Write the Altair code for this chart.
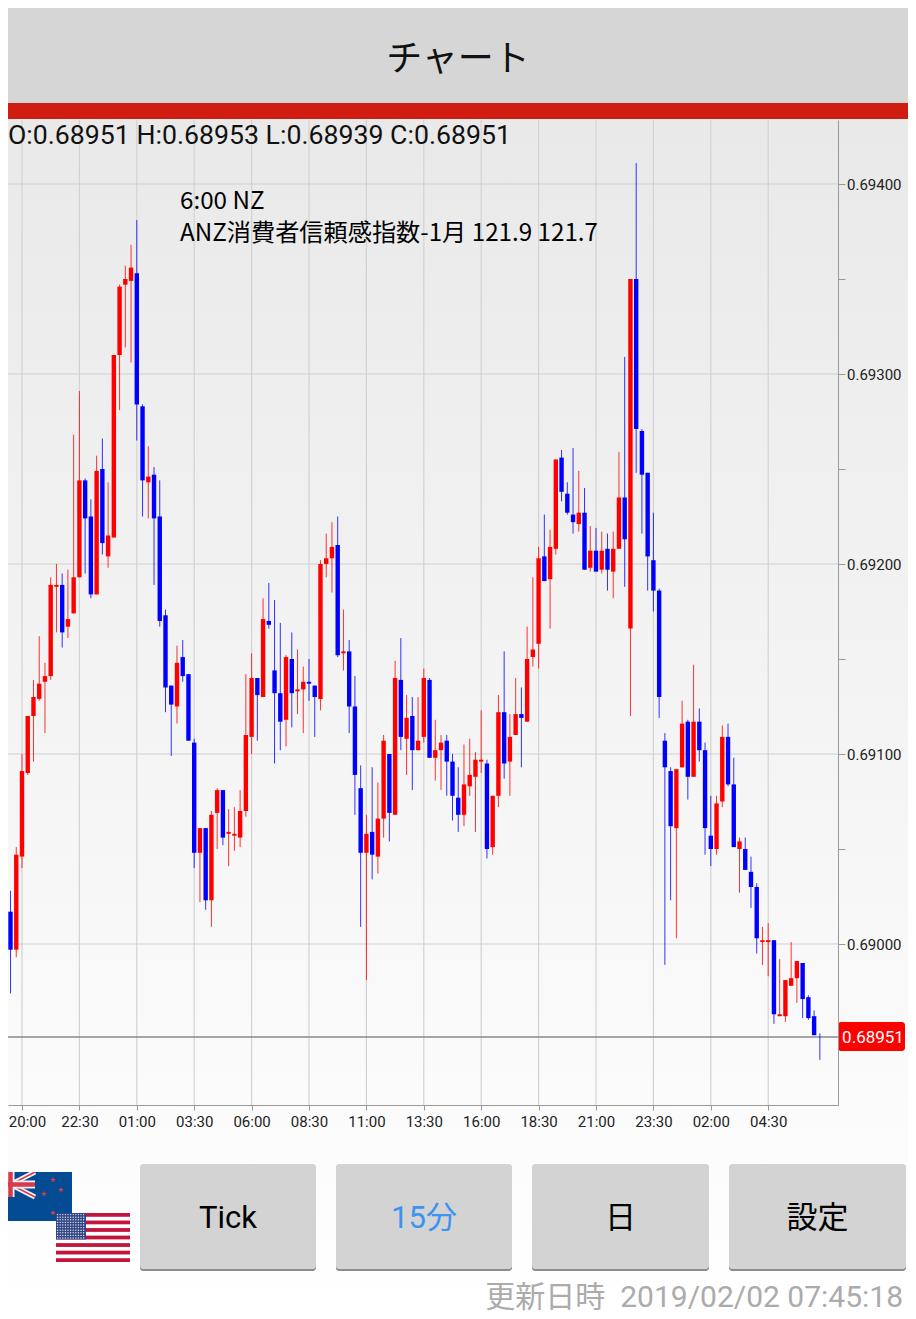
import base64
import altair as alt
import pandas as pd

# Prices are in 1/100000 units (69000 = 0.69000). First candle index is -4.
FIRST_INDEX = -4
SIDE = list(
    "BBBRRRRRRR" "RBRRRBBRBR" "RRRRBBRBBB" "BRBBBRBRRB"
    "RRRRRBRBBB" "RBRRBBRRRB" "RBBBRBRRBR" "BRBRRBRRBB"
    "BRRRRBRRBR" "RBRRRBRRBB" "BRBRBRBRRB" "RBBBBBBBRR"
    "BRBBBRRBBR" "BBBRRBRRRR" "BBBB"
)
BODY_TOP = [
    69077, 69069, 69017, 69047, 69091, 69120, 69130, 69137, 69141, 69189,
    69189, 69189, 69171, 69193, 69244, 69244, 69225, 69249, 69250, 69215,
    69310, 69346, 69350, 69356, 69353, 69283, 69246, 69247, 69225, 69173,
    69136, 69148, 69151, 69142, 69106, 69061, 69061, 69068, 69081, 69081,
    69059, 69058, 69070, 69110, 69140, 69140, 69171, 69170, 69144, 69132,
    69151, 69150, 69134, 69138, 69138, 69136, 69200, 69203, 69209, 69210,
    69154, 69154, 69125, 69082, 69058, 69059, 69066, 69107, 69100, 69140,
    69139, 69119, 69120, 69107, 69140, 69139, 69102, 69106, 69107, 69096,
    69077, 69084, 69089, 69097, 69097, 69095, 69078, 69122, 69122, 69109,
    69121, 69121, 69150, 69155, 69203, 69204, 69209, 69255, 69256, 69237,
    69226, 69227, 69227, 69207, 69207, 69207, 69208, 69208, 69235, 69235,
    69350, 69350, 69270, 69248, 69202, 69186, 69107, 69091, 69092, 69116,
    69117, 69117, 69117, 69102, 69057, 69074, 69109, 69109, 69084, 69054,
    69050, 69038, 69030, 69002, 69002, 69002, 68963, 68981, 68982, 68991,
    68990, 68972, 68962, 68951,
]
BODY_BOTTOM = [
    69069, 69016, 68997, 68997, 69046, 69090, 69120, 69129, 69138, 69141,
    69188, 69164, 69167, 69174, 69193, 69224, 69184, 69184, 69211, 69204,
    69214, 69310, 69347, 69349, 69284, 69244, 69243, 69224, 69170, 69135,
    69126, 69125, 69141, 69107, 69048, 69048, 69023, 69023, 69069, 69056,
    69058, 69057, 69056, 69070, 69109, 69131, 69130, 69168, 69132, 69117,
    69118, 69132, 69133, 69134, 69137, 69130, 69129, 69200, 69203, 69152,
    69153, 69125, 69089, 69048, 69048, 69047, 69046, 69066, 69069, 69068,
    69109, 69108, 69102, 69102, 69109, 69098, 69098, 69102, 69096, 69078,
    69068, 69068, 69083, 69088, 69096, 69050, 69051, 69078, 69095, 69096,
    69110, 69119, 69117, 69151, 69158, 69191, 69192, 69208, 69238, 69227,
    69222, 69221, 69197, 69198, 69196, 69197, 69197, 69196, 69208, 69213,
    69166, 69271, 69247, 69204, 69186, 69130, 69093, 69062, 69061, 69093,
    69088, 69088, 69102, 69061, 69050, 69050, 69075, 69084, 69051, 69050,
    69039, 69030, 69003, 69001, 69001, 68963, 68962, 68962, 68978, 68982,
    68971, 68961, 68952, 68951,
]
HIGH = [
    69084, 69099, 69028, 69051, 69100, 69120, 69139, 69162, 69148, 69193,
    69200, 69195, 69197, 69268, 69291, 69245, 69234, 69257, 69266, 69243,
    69310, 69347, 69357, 69368, 69381, 69284, 69262, 69251, 69244, 69176,
    69136, 69157, 69160, 69142, 69108, 69061, 69061, 69070, 69082, 69081,
    69071, 69072, 69081, 69142, 69153, 69140, 69182, 69190, 69181, 69169,
    69152, 69164, 69155, 69146, 69150, 69136, 69202, 69216, 69222, 69225,
    69176, 69160, 69141, 69094, 69068, 69093, 69085, 69110, 69100, 69149,
    69161, 69131, 69130, 69130, 69145, 69140, 69118, 69110, 69110, 69100,
    69093, 69105, 69108, 69101, 69123, 69097, 69078, 69131, 69154, 69121,
    69140, 69135, 69167, 69193, 69209, 69226, 69218, 69255, 69260, 69243,
    69261, 69249, 69240, 69220, 69219, 69217, 69216, 69217, 69259, 69309,
    69350, 69411, 69271, 69248, 69227, 69187, 69111, 69093, 69092, 69128,
    69118, 69147, 69124, 69106, 69078, 69078, 69115, 69116, 69098, 69056,
    69056, 69046, 69032, 69009, 69011, 69002, 68992, 68981, 69001, 68991,
    68990, 68973, 68965, 68953,
]
LOW = [
    69065, 69011, 68974, 68993, 69040, 69089, 69096, 69128, 69111, 69139,
    69164, 69156, 69161, 69174, 69193, 69195, 69182, 69184, 69205, 69198,
    69214, 69281, 69314, 69306, 69265, 69225, 69224, 69189, 69167, 69122,
    69099, 69116, 69138, 69107, 69040, 69022, 69018, 69009, 69050, 69052,
    69041, 69049, 69051, 69067, 69100, 69107, 69130, 69166, 69095, 69102,
    69104, 69114, 69121, 69111, 69128, 69109, 69123, 69193, 69185, 69151,
    69144, 69111, 69068, 69009, 68981, 69034, 69037, 69056, 69054, 69068,
    69102, 69089, 69081, 69102, 69106, 69098, 69086, 69081, 69078, 69065,
    69059, 69062, 69078, 69059, 69090, 69045, 69047, 69072, 69087, 69078,
    69110, 69093, 69117, 69146, 69145, 69191, 69166, 69205, 69233, 69226,
    69216, 69217, 69197, 69196, 69196, 69195, 69186, 69182, 69208, 69188,
    69120, 69248, 69216, 69186, 69175, 69119, 68989, 69023, 69003, 69093,
    69076, 69088, 69096, 69047, 69041, 69047, 69072, 69083, 69051, 69027,
    69039, 69019, 68995, 68989, 68983, 68958, 68962, 68959, 68978, 68969,
    68961, 68960, 68952, 68939,
]
TIME_LABELS = ["20:00", "22:30", "01:00", "03:30", "06:00", "08:30", "11:00",
               "13:30", "16:00", "18:30", "21:00", "23:30", "02:00", "04:30"]
PRICE_GRID = [69000, 69100, 69200, 69300, 69400]
PRICE_TICKS = [69000, 69050, 69100, 69150, 69200, 69250, 69300, 69350, 69400]
TIME_GRID = [0, 10, 20, 30, 40, 50, 60, 70, 80, 90, 100, 110, 120, 130]
TIME_TICKS = [0, 5, 10, 15, 20, 25, 30, 35, 40, 45, 50, 55, 60, 65, 70, 75, 80,
              85, 90, 95, 100, 105, 110, 115, 120, 125, 130, 135]
LAST_PRICE = 68951
OHLC_TEXT = "O:0.68951 H:0.68953 L:0.68939 C:0.68951"
EVENT_LINES = ["6:00 NZ", "ANZ消費者信頼感指数-1月 121.9 121.7"]
BUTTONS = ["Tick", "15分", "日", "設定"]
UPDATE_TEXT = "更新日時\u00a0\u00a02019/02/02 07:45:18"

n = len(HIGH)
frame = pd.DataFrame({
    "i": [FIRST_INDEX + k for k in range(n)],
    "side": SIDE, "top": BODY_TOP, "bottom": BODY_BOTTOM, "high": HIGH, "low": LOW,
})

one = pd.DataFrame({"a": [0]})
def X(v): return alt.value(v - 8)
def Y(v): return alt.value(v - 120)

def box(x0, x1, y0, y1, color, **kw):
    return alt.Chart(one).mark_rect(color=color, **kw).encode(
        x=X(x0), x2=X(x1), y=Y(y0), y2=Y(y1))

def label(text, x, y, size, color="#000000", font="Roboto", align="center", **kw):
    return alt.Chart(one).mark_text(
        text=text, font=font, fontSize=size, color=color, align=align, baseline="middle", **kw
    ).encode(x=X(x), y=Y(y))

x_scale = alt.Scale(domain=[-2.439, 142.16], nice=False, zero=False)
y_scale = alt.Scale(domain=[68915.26, 69433.68], nice=False, zero=False)
color_scale = alt.Scale(domain=["R", "B"], range=["#ff0000", "#0000ff"])

x_axis = alt.Axis(
    values=TIME_TICKS, title=None, grid=False, domainColor="#999999", tickColor="#999999",
    tickSize=5, labelFont="Roboto", labelFontSize=15, labelColor="#222222", labelPadding=4,
    labelOverlap=False, labelFlush=False, zindex=1,
    labelOffset={"condition": {"test": "datum.value === 0", "value": 5}, "value": 0},
    labelExpr="datum.value % 10 === 0 ? [" + ",".join(f"'{t}'" for t in TIME_LABELS) + "][datum.value / 10] : ''",
)
y_axis = alt.Axis(
    orient="right", values=PRICE_TICKS, title=None, grid=False, domainColor="#999999", tickColor="#999999",
    tickSize=7, labelFont="Roboto", labelFontSize=15, labelColor="#222222", labelPadding=1.5,
    labelOffset=1, labelOverlap=False, labelFlush=False, zindex=1,
    labelExpr="datum.value % 100 === 0 ? format(datum.value / 100000, '.5f') : ''",
)

background = box(0, 916, 119, 1319, alt.Gradient(
    gradient="linear", x1=0, x2=0, y1=0, y2=1,
    stops=[alt.GradientStop(color="#e9e9e9", offset=0), alt.GradientStop(color="#ffffff", offset=1)]))
header = box(0, 916, 0, 103, "#d6d6d6")
red_band = box(0, 916, 103, 119, "#cf1d12")

grid_v = alt.Chart(pd.DataFrame({"i": TIME_GRID})).mark_rule(color="#d2d2d2", strokeWidth=1.2).encode(
    x=alt.X("i:Q", scale=x_scale, axis=x_axis))
grid_h = alt.Chart(pd.DataFrame({"p": PRICE_GRID})).mark_rule(color="#d0d0d0", strokeWidth=1.2).encode(
    y=alt.Y("p:Q", scale=y_scale, axis=y_axis))

base = alt.Chart(frame)
wicks = base.mark_rule(strokeWidth=1, clip=True, opacity=0.8).encode(
    x=alt.X("i:Q", scale=x_scale),
    y=alt.Y("low:Q", scale=y_scale), y2="high:Q",
    color=alt.Color("side:N", scale=color_scale, legend=None))
bodies = base.mark_rule(strokeWidth=4.4, clip=True).encode(
    x=alt.X("i:Q", scale=x_scale),
    y=alt.Y("bottom:Q", scale=y_scale), y2="top:Q",
    color=alt.Color("side:N", scale=color_scale, legend=None))

last_line = alt.Chart(pd.DataFrame({"p": [LAST_PRICE]})).mark_rule(color="#8a8a8a", strokeWidth=1.5).encode(
    y=alt.Y("p:Q", scale=y_scale))
last_box = box(838, 905, 1022, 1051, "#ff0000", cornerRadius=3)
last_text = label(f"{LAST_PRICE / 100000:.5f}", 873, 1038, 17, color="#ffffff")

title = label("チャート", 458, 60, 36, font="Noto Sans CJK JP", color="#111111")
ohlc = label(OHLC_TEXT, 8, 135.5, 26.7, color="#111111", align="left")
event1 = label(EVENT_LINES[0], 180, 202, 24.2, font="Noto Sans CJK JP", align="left")
event2 = label(EVENT_LINES[1], 180, 234, 24.2, font="Noto Sans CJK JP", align="left")

button_spans = [(140, 316), (336, 512), (532, 709), (729, 906)]
button_layers = []
for (x0, x1), name in zip(button_spans, BUTTONS):
    button_layers.append(box(x0, x1, 1165, 1271, "#8c8c8c", cornerRadius=3))
    button_layers.append(box(x0, x1, 1164, 1269, "#d3d3d3", cornerRadius=3))
    col = "#3d93f0" if name == "15分" else "#000000"
    button_layers.append(label(name, (x0 + x1) / 2, 1219, 31, color=col, font="Roboto, Noto Sans CJK JP"))

update = label(UPDATE_TEXT, 903, 1298, 30, color="#ababab", font="Roboto, Noto Sans CJK JP", align="right")

# Flags as small inline SVG pictures
star = "0,-3 .9,-.9 2.9,-.9 1.1,.4 1.8,2.4 0,1.1 -1.8,2.4 -1.1,.4 -2.9,-.9 -.9,-.9"
stars = "".join(f'<polygon points="{star}" fill="#d8394b" transform="translate({x},{y})"/>'
                for x, y in [(67, 8), (75, 18), (58, 22), (67, 41)])
nz_svg = (
    '<svg xmlns="http://www.w3.org/2000/svg" width="86" height="49" viewBox="0 0 86 49">'
    '<rect width="86" height="49" fill="#034c94"/>'
    '<path d="M0 0L49 25M49 0L0 25" stroke="#f4f4f8" stroke-width="5"/>'
    '<path d="M0 0L49 25M49 0L0 25" stroke="#d8394b" stroke-width="1.6"/>'
    '<path d="M24.5 0V25M0 12.5H49" stroke="#f4f4f8" stroke-width="8"/>'
    '<path d="M24.5 0V25M0 12.5H49" stroke="#d8394b" stroke-width="4.5"/>'
    f'{stars}</svg>'
)
stripes = "".join(f'<rect y="{k * 49 / 13:.2f}" width="74" height="{49 / 13:.2f}" fill="#c2143c"/>'
                  for k in range(0, 13, 2))
dots = "".join(f'<circle cx="{1.6 + c * 2.6:.1f}" cy="{1.6 + r * 2.6:.1f}" r=".7" fill="#e6e6f0"/>'
               for r in range(10) for c in range(11))
us_svg = (
    '<svg xmlns="http://www.w3.org/2000/svg" width="74" height="49" viewBox="0 0 74 49">'
    f'<rect width="74" height="49" fill="#ffffff"/>{stripes}'
    f'<rect width="30" height="26.5" fill="#2f4585"/>{dots}</svg>'
)
def data_url(svg):
    return "data:image/svg+xml;base64," + base64.b64encode(svg.encode()).decode()
def flag(svg, x, y, w, h):
    return alt.Chart(one).mark_image(
        url=data_url(svg), width=w, height=h, align="left", baseline="top", aspect=False
    ).encode(x=X(x), y=Y(y))
nz_flag = flag(nz_svg, -14, 1172, 86, 49)
us_flag = flag(us_svg, 56, 1213, 74, 49)

chart = alt.layer(
    background, header, red_band, grid_v, grid_h, last_line, wicks, bodies,
    last_box, last_text, title, ohlc, event1, event2,
    nz_flag, us_flag, *button_layers, update,
).properties(
    width=830, height=985,
    autosize=alt.AutoSizeParams(type="none"),
    padding={"left": 0, "top": 112, "right": 70, "bottom": 206},
    background="#ffffff",
).configure_view(stroke=None)

chart.save("out.html", embed_options={"renderer": "svg", "actions": False})
